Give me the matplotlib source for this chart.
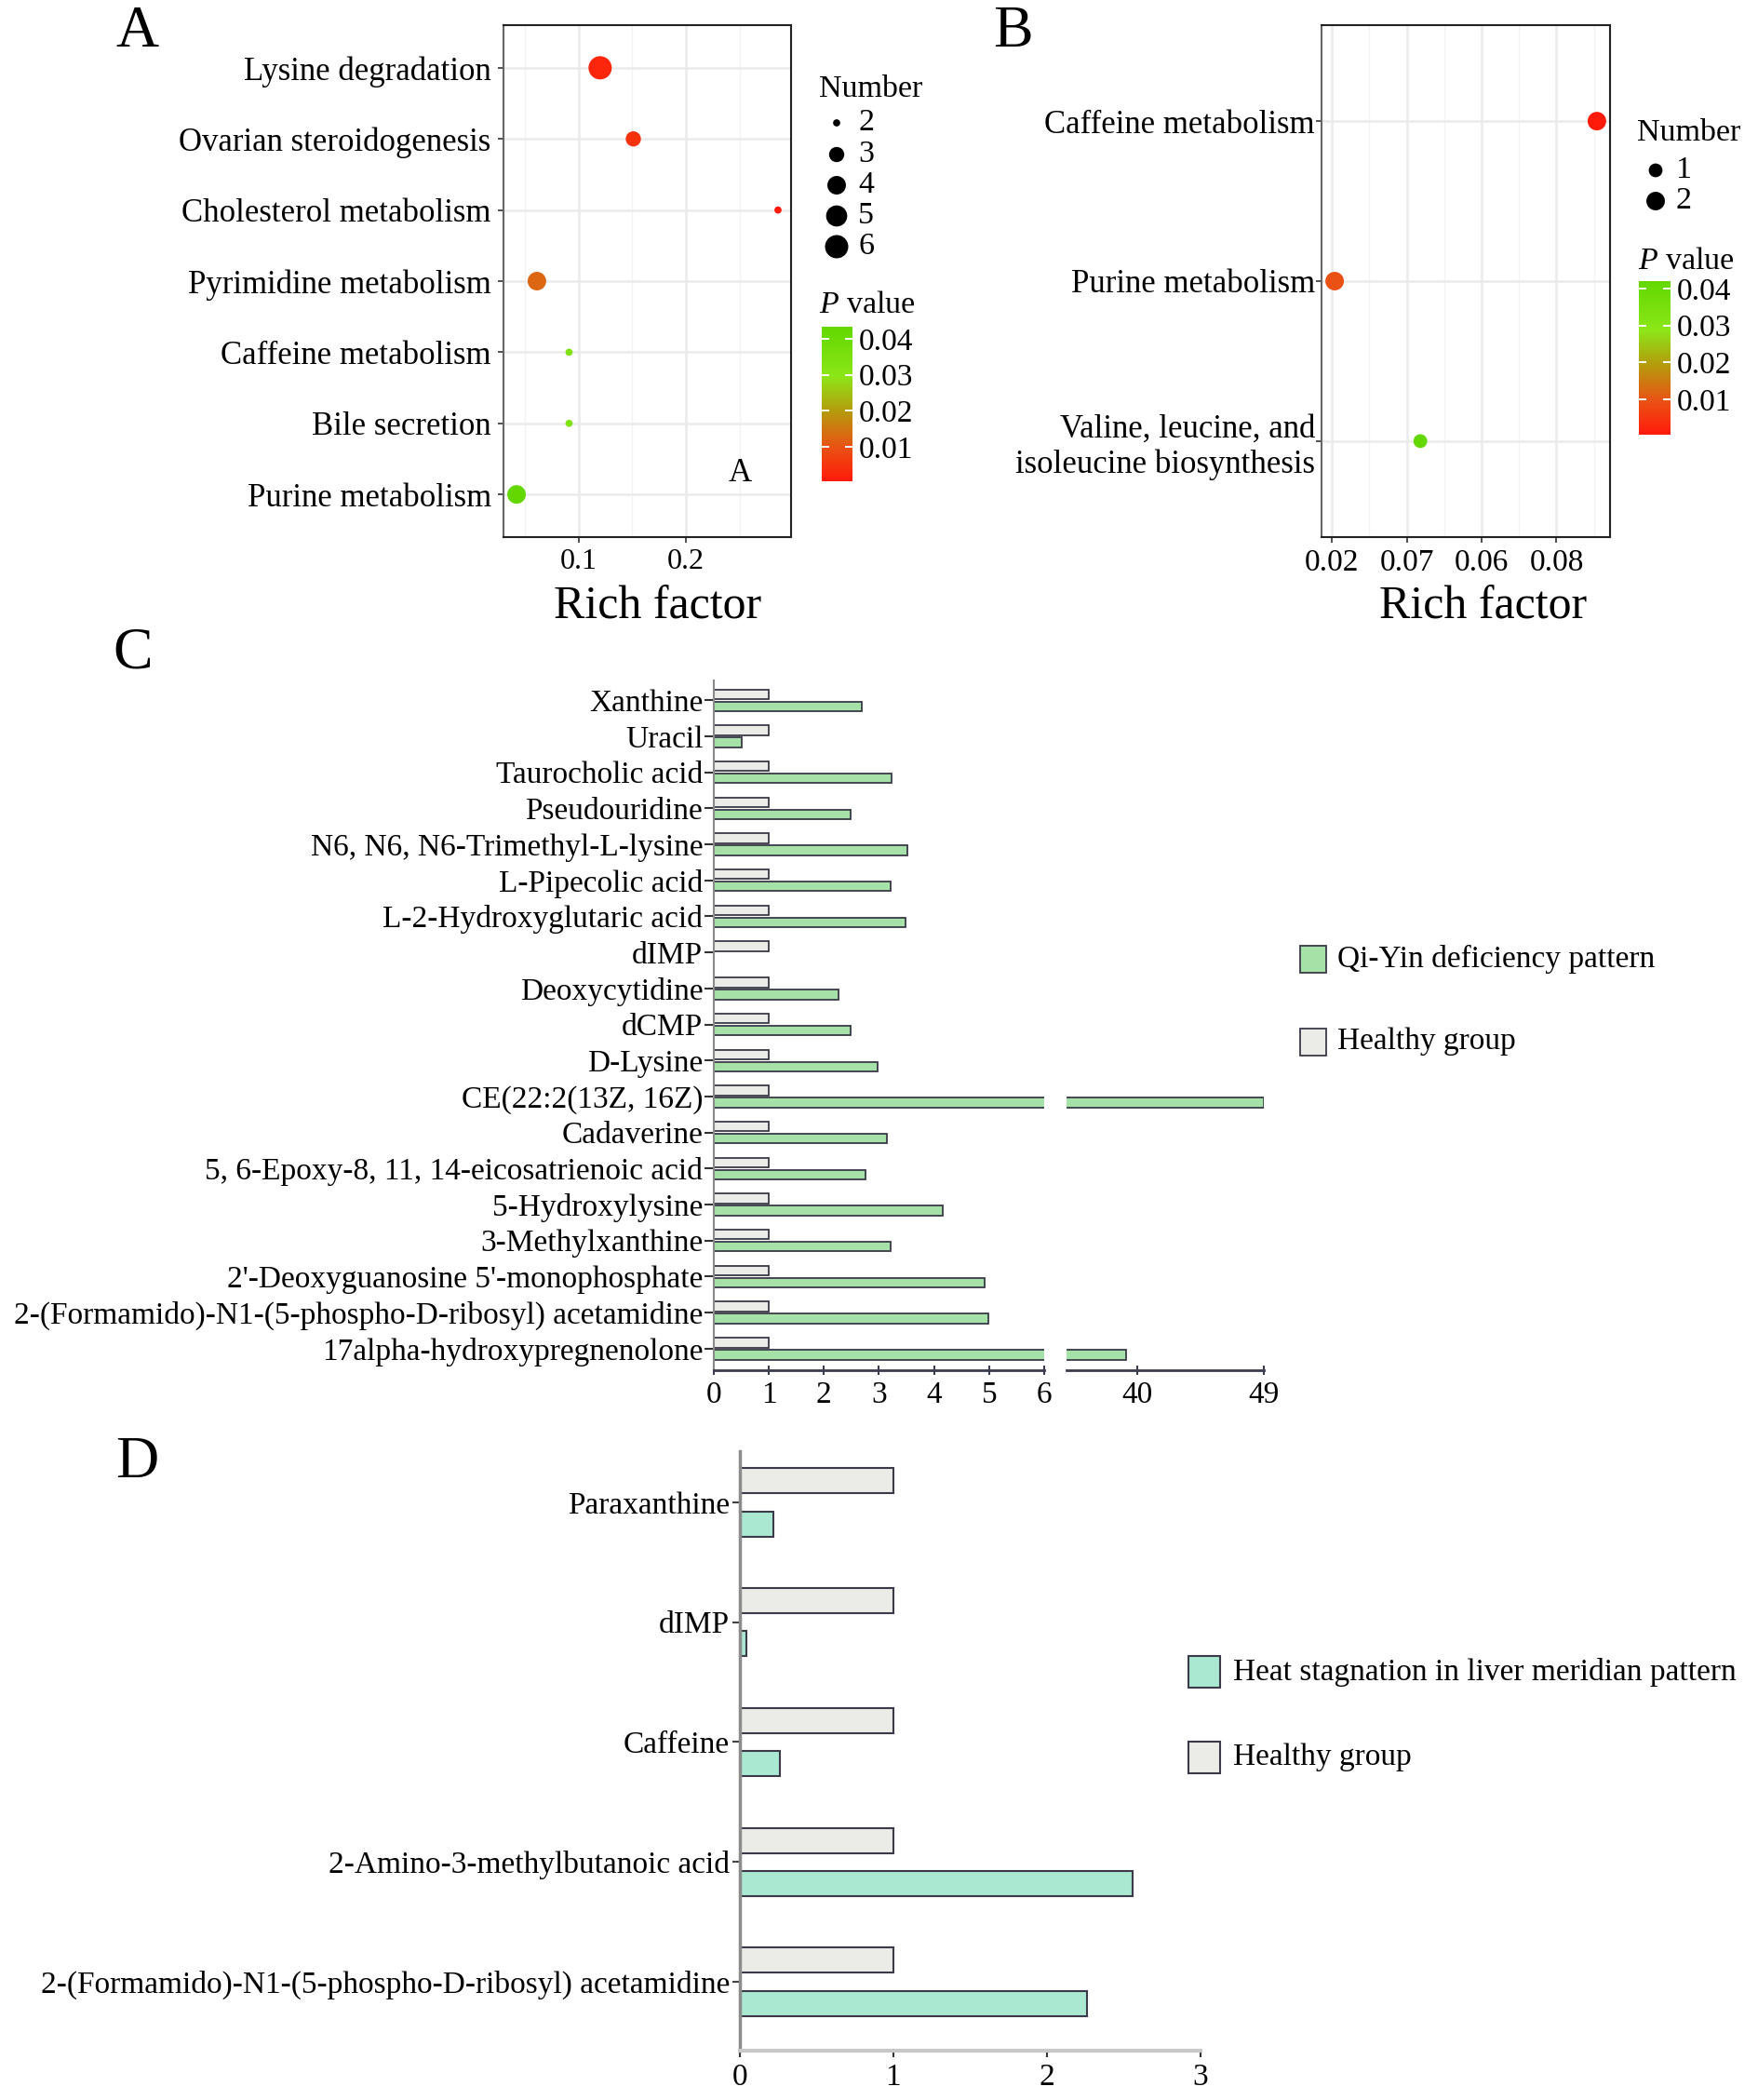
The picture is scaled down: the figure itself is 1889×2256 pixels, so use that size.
"""
Four-panel metabolomics figure: KEGG enrichment bubble plots (A, B) and
fold-change bar charts vs. healthy group (C with a broken x axis, D).
"""

import matplotlib
matplotlib.use("Agg")
import matplotlib.pyplot as plt
import numpy as np
from matplotlib.cm import ScalarMappable
from matplotlib.colors import LinearSegmentedColormap, Normalize
from matplotlib.patches import Rectangle
from matplotlib.ticker import MultipleLocator

W, H = 1890, 2256

# ---------------------------------------------------------------- data
a_pathways = ["Lysine degradation", "Ovarian steroidogenesis", "Cholesterol metabolism",
              "Pyrimidine metabolism", "Caffeine metabolism", "Bile secretion",
              "Purine metabolism"]
a_rich = [0.120, 0.151, 0.286, 0.061, 0.091, 0.091, 0.042]
a_number = [6, 3, 2, 4, 2, 2, 4]
a_pvalue = [0.0025, 0.0045, 0.0004, 0.0125, 0.0335, 0.0335, 0.0434]
a_size_breaks = [2, 3, 4, 5, 6]

b_pathways = ["Caffeine metabolism", "Purine metabolism",
              "Valine, leucine, and\nisoleucine biosynthesis"]
b_rich = [0.0908, 0.0207, 0.0436]
b_number = [2, 2, 1]
b_pvalue = [0.0005, 0.0095, 0.0420]
b_size_breaks = [1, 2]
b_xticks = [0.02, 0.04, 0.06, 0.08]
b_xtick_labels = ["0.02", "0.07", "0.06", "0.08"]

pvalue_ticks = [0.01, 0.02, 0.03, 0.04]

c_metabolites = ["Xanthine", "Uracil", "Taurocholic acid", "Pseudouridine",
                 "N6, N6, N6-Trimethyl-L-lysine", "L-Pipecolic acid",
                 "L-2-Hydroxyglutaric acid", "dIMP", "Deoxycytidine", "dCMP", "D-Lysine",
                 "CE(22:2(13Z, 16Z)", "Cadaverine",
                 "5, 6-Epoxy-8, 11, 14-eicosatrienoic acid", "5-Hydroxylysine",
                 "3-Methylxanthine", "2'-Deoxyguanosine 5'-monophosphate",
                 "2-(Formamido)-N1-(5-phospho-D-ribosyl) acetamidine",
                 "17alpha-hydroxypregnenolone"]
c_qiyin = [2.68, 0.50, 3.22, 2.48, 3.51, 3.21, 3.48, 0.0, 2.26, 2.48, 2.97,
           49.0, 3.15, 2.76, 4.16, 3.21, 4.91, 4.98, 39.2]
c_healthy = [1.0] * len(c_metabolites)
c_ticks_low = [0, 1, 2, 3, 4, 5, 6]
c_ticks_high = [40, 49]

d_metabolites = ["Paraxanthine", "dIMP", "Caffeine", "2-Amino-3-methylbutanoic acid",
                 "2-(Formamido)-N1-(5-phospho-D-ribosyl) acetamidine"]
d_heat = [0.22, 0.044, 0.26, 2.56, 2.26]
d_healthy = [1.0] * len(d_metabolites)

# ---------------------------------------------------------------- style
plt.rcParams["font.family"] = ["Liberation Serif", "DejaVu Serif"]
plt.rcParams["mathtext.fontset"] = "custom"
plt.rcParams["mathtext.rm"] = "Liberation Serif"
plt.rcParams["mathtext.it"] = "Liberation Serif:italic"

PCMAP = LinearSegmentedColormap.from_list(
    "pval", [(0.0, "#ff1a0a"), (0.22, "#ea5214"), (0.45, "#b69a0c"),
             (0.68, "#8ce618"), (1.0, "#62d800")])
GREEN = "#a6e2a7"
MINT = "#aae8d2"
HEALTHY = "#ebebe7"
EDGE = "#3a3a48"
FS = 24

fig = plt.figure(figsize=(W / 100, H / 100), dpi=100)


def px_axes(left, top, right, bottom, **kw):
    return fig.add_axes([left / W, 1 - bottom / H, (right - left) / W, (bottom - top) / H], **kw)


def diam_pt(n, breaks, dmin, dmax):
    lo, hi = min(breaks), max(breaks)
    r = (np.asarray(n, float) - lo) / (hi - lo)
    return (dmin + (dmax - dmin) * np.sqrt(r)) / 1.389


lay = px_axes(0, 0, W, H, zorder=10)
lay.set_xlim(0, W)
lay.set_ylim(H, 0)
lay.axis("off")


def bubble_panel(ax, pathways, rich, number, pvalue, breaks, dmin, dmax, minor):
    n = len(pathways)
    ypos = np.arange(n)[::-1]
    norm = Normalize(min(pvalue), max(pvalue))
    s = diam_pt(number, breaks, dmin, dmax) ** 2
    ax.scatter(rich, ypos, s=s, c=pvalue, cmap=PCMAP, norm=norm, linewidths=0, zorder=3)
    ax.margins(x=0.05)
    ax.set_ylim(-0.6, n - 0.4)
    ax.set_yticks(ypos)
    ax.set_yticklabels(pathways, fontsize=FS + 1)
    ax.xaxis.set_minor_locator(MultipleLocator(minor))
    ax.grid(which="major", color="#ebebeb", lw=1.8, zorder=0)
    ax.grid(which="minor", axis="x", color="#f3f3f3", lw=1.0, zorder=0)
    ax.set_axisbelow(True)
    ax.tick_params(which="minor", length=0)
    ax.tick_params(axis="y", length=4.6, width=1.2, color="#333333", pad=5)
    ax.tick_params(axis="x", length=4, width=1.2, color="#333333", pad=5, labelsize=FS - 1)
    for side, sp in ax.spines.items():
        sp.set_color("#666666" if side == "left" else "#222222")
        sp.set_linewidth(1.5)
    return norm


def pvalue_bar(cax, norm):
    cb = fig.colorbar(ScalarMappable(norm=norm, cmap=PCMAP), cax=cax)
    cb.outline.set_visible(False)
    cb.set_ticks(pvalue_ticks)
    cb.set_ticklabels([f"{t:.2f}" for t in pvalue_ticks])
    cax.yaxis.set_ticks_position("both")
    cax.tick_params(direction="in", length=6, width=1.4, color="white",
                    labelcolor="black", labelsize=FS, labelleft=False, labelright=True, pad=5)


def size_legend(x_title, y_title, x_dot, x_lab, ys, breaks, dmin, dmax):
    lay.text(x_title, y_title, "Number", fontsize=FS + 0.5, va="center", ha="left")
    d = diam_pt(breaks, breaks, dmin, dmax)
    lay.scatter([x_dot] * len(breaks), ys, s=d ** 2, color="black", linewidths=0)
    for y, b in zip(ys, breaks):
        lay.text(x_lab, y, str(b), fontsize=FS + 0.5, va="center", ha="left")


# ---------------------------------------------------------------- panel A
ax_a = px_axes(541, 27, 850, 577)
norm_a = bubble_panel(ax_a, a_pathways, a_rich, a_number, a_pvalue, a_size_breaks, 7.7, 25.0, 0.05)
ax_a.set_xticks([0.1, 0.2])
ax_a.set_xticklabels(["0.1", "0.2"])
ax_a.text(0.822, 0.125, "A", transform=ax_a.transAxes, fontsize=25, ha="center", va="center")
pvalue_bar(px_axes(883, 351, 916, 517), norm_a)
size_legend(880, 96, 899, 922, [132, 166, 199, 232, 265], a_size_breaks, 7.7, 25.0)
lay.text(880, 328, r"$P$ value", fontsize=FS + 0.5, va="center", ha="left")

# ---------------------------------------------------------------- panel B
ax_b = px_axes(1420, 27, 1730, 577)
norm_b = bubble_panel(ax_b, b_pathways, b_rich, b_number, b_pvalue, b_size_breaks, 14.8, 19.9, 0.01)
ax_b.set_xticks(b_xticks)
ax_b.set_xticklabels(b_xtick_labels, fontsize=FS)
ax_b.tick_params(axis="y", pad=0.5)
pvalue_bar(px_axes(1761, 302, 1795, 467), norm_b)
size_legend(1759, 143, 1779, 1801, [183, 216], b_size_breaks, 14.8, 19.9)
lay.text(1760, 281, r"$P$ value", fontsize=FS + 0.5, va="center", ha="left")

for x in (707, 1594):
    lay.text(x, 652, "Rich factor", fontsize=36, ha="center", va="center")

# ---------------------------------------------------------------- panel C (broken x axis)
ax_c1 = px_axes(767, 731, 1122, 1472)
ax_c2 = px_axes(1146, 731, 1358, 1472)
nc = len(c_metabolites)
yc = np.arange(nc)[::-1]
for ax in (ax_c1, ax_c2):
    ax.barh(yc + 0.168, c_healthy, height=0.27, color=HEALTHY, edgecolor=EDGE, lw=1.3)
    ax.barh(yc - 0.168, c_qiyin, height=0.27, color=GREEN, edgecolor=EDGE, lw=1.3)
    ax.set_ylim(-0.6, nc - 0.45)
    for side in ("top", "right"):
        ax.spines[side].set_visible(False)
    ax.spines["bottom"].set_color("#3c3c50")
    ax.spines["bottom"].set_linewidth(2)
    ax.tick_params(axis="x", direction="inout", length=7, width=1.5, color="#3c3c50",
                   labelsize=FS, pad=5)
ax_c1.set_xlim(0, 6)
ax_c1.set_xticks(c_ticks_low)
ax_c2.set_xlim(35, 49)
ax_c2.set_xticks(c_ticks_high)
ax_c1.set_yticks(yc)
ax_c1.set_yticklabels(c_metabolites, fontsize=FS)
ax_c1.tick_params(axis="y", length=7, width=1.5, color="#333333", pad=1.5)
ax_c1.spines["left"].set_color("#8a8a8a")
ax_c1.spines["left"].set_linewidth(1.5)
ax_c2.spines["left"].set_visible(False)
ax_c2.set_yticks([])

for y, color, label in ((1030, GREEN, "Qi-Yin deficiency pattern"),
                        (1119, HEALTHY, "Healthy group")):
    lay.add_patch(Rectangle((1397, y - 14.5), 28, 29, facecolor=color, edgecolor=EDGE, lw=1.3))
    lay.text(1437, y, label, fontsize=FS, va="center", ha="left")

# ---------------------------------------------------------------- panel D
ax_d = px_axes(794.6, 1558.5, 1290, 2202.7)
nd = len(d_metabolites)
yd = np.arange(nd)[::-1]
ax_d.barh(yd + 0.18, d_healthy, height=0.21, color=HEALTHY, edgecolor=EDGE, lw=1.5)
ax_d.barh(yd - 0.18, d_heat, height=0.21, color=MINT, edgecolor=EDGE, lw=1.5)
ax_d.set_xlim(0, 3)
ax_d.set_ylim(-0.573, nd - 0.569)
ax_d.set_xticks([0, 1, 2, 3])
ax_d.set_yticks(yd)
ax_d.set_yticklabels(d_metabolites, fontsize=FS)
for side in ("top", "right"):
    ax_d.spines[side].set_visible(False)
ax_d.spines["left"].set_color("#8c8c8c")
ax_d.spines["left"].set_linewidth(2.5)
ax_d.spines["bottom"].set_color("#c8c8c8")
ax_d.spines["bottom"].set_linewidth(3)
ax_d.tick_params(axis="x", length=5, width=1.5, color="#333333", labelsize=FS, pad=5)
ax_d.tick_params(axis="y", length=6, width=1.5, color="#444444", pad=1.5)

for y, color, label in ((1796, MINT, "Heat stagnation in liver meridian pattern"),
                        (1888, HEALTHY, "Healthy group")):
    lay.add_patch(Rectangle((1277, y - 17), 34, 34, facecolor=color, edgecolor=EDGE, lw=1.5))
    lay.text(1325, y, label, fontsize=FS, va="center", ha="left")

# ---------------------------------------------------------------- panel letters
for x, y, letter in ((147, 35, "A"), (1088, 35, "B"), (143, 702, "C"), (147, 1572, "D")):
    lay.text(x, y, letter, fontsize=46, ha="center", va="center")

fig.savefig("out.png", dpi=100)
